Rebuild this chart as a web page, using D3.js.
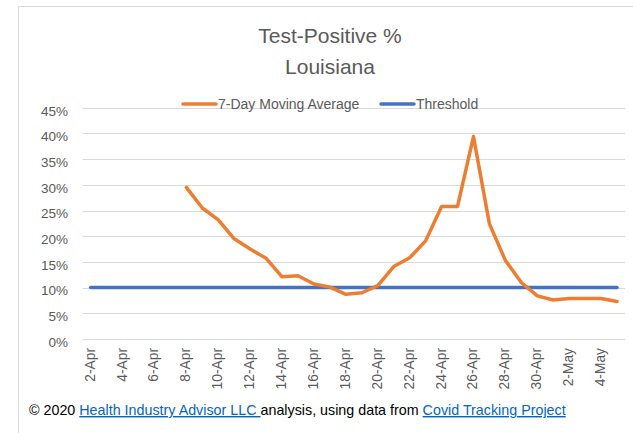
<!DOCTYPE html>
<html>
<head>
<meta charset="utf-8">
<script src="https://cdn.jsdelivr.net/npm/d3@7"></script>
<style>
  html, body { margin: 0; padding: 0; background: #fff; }
  svg { display: block; }
  text { font-family: "Liberation Sans", Arial, sans-serif; }
</style>
</head>
<body>
<svg id="chart" width="633" height="433"></svg>
<script>
// Daily dates, 2-Apr through 5-May 2020
const dates = [
  "2-Apr","3-Apr","4-Apr","5-Apr","6-Apr","7-Apr","8-Apr","9-Apr","10-Apr","11-Apr",
  "12-Apr","13-Apr","14-Apr","15-Apr","16-Apr","17-Apr","18-Apr","19-Apr","20-Apr","21-Apr",
  "22-Apr","23-Apr","24-Apr","25-Apr","26-Apr","27-Apr","28-Apr","29-Apr","30-Apr","1-May",
  "2-May","3-May","4-May","5-May"
];

// 7-day moving average of test-positive rate (%), starts once 7 days are available
const movingAverage = [
  null, null, null, null, null, null,
  29.5, 25.5, 23.2, 19.5, 17.5, 15.7, 12.1, 12.3, 10.7, 10.1,
  8.7, 9.0, 10.4, 14.1, 15.8, 19.1, 25.8, 25.8, 39.4, 22.4,
  15.3, 11.0, 8.4, 7.6, 7.9, 7.9, 7.9, 7.3
];

// Constant 10% threshold
const threshold = dates.map(() => 10);

// Tick labels
const xTickLabels = dates.filter((d, i) => i % 2 === 0);
const yTicks = [0, 5, 10, 15, 20, 25, 30, 35, 40, 45];

const svg = d3.select("#chart");
const textColor = "#595959";
const font = "'Liberation Sans', Arial, sans-serif";

// chart frame
svg.append("path")
  .attr("d", "M18.5,433 V6.5 H633")
  .attr("fill", "none")
  .attr("stroke", "#D9D9D9")
  .attr("stroke-width", 1);

const x = d3.scaleBand().domain(dates).range([82.7, 625]);
const y = d3.scaleLinear().domain([0, 45]).range([339, 107.8]);
const cx = d => x(d) + x.bandwidth() / 2;

// gridlines
svg.append("g")
  .selectAll("line")
  .data(yTicks)
  .join("line")
  .attr("x1", 82.7)
  .attr("x2", 625)
  .attr("y1", d => Math.round(y(d)) + 0.5)
  .attr("y2", d => Math.round(y(d)) + 0.5)
  .attr("stroke", "#D9D9D9")
  .attr("stroke-width", 1);

// y axis labels
const yAxis = d3.axisLeft(y)
  .tickValues(yTicks)
  .tickFormat(d => d + "%")
  .tickSize(0)
  .tickPadding(0);
const yg = svg.append("g").attr("transform", "translate(68,3)").call(yAxis);
yg.select(".domain").remove();
yg.selectAll("text")
  .attr("fill", textColor)
  .style("font-size", "13.5px")
  .style("font-family", font);

// x axis labels (rotated)
const xAxis = d3.axisBottom(x)
  .tickValues(xTickLabels)
  .tickSize(0)
  .tickPadding(0);
const xg = svg.append("g").attr("transform", "translate(0,339)").call(xAxis);
xg.select(".domain").remove();
xg.selectAll("text")
  .attr("fill", textColor)
  .style("font-size", "13.8px")
  .style("font-family", font)
  .attr("text-anchor", "end")
  .attr("dy", null)
  .attr("y", 0)
  .attr("transform", "translate(4,9) rotate(-90)");

// series lines
const line = d3.line()
  .defined(d => d.v != null)
  .x(d => cx(d.date))
  .y(d => y(d.v));

svg.append("path")
  .datum(dates.map((date, i) => ({ date, v: threshold[i] })))
  .attr("d", line)
  .attr("fill", "none")
  .attr("stroke", "#4472C4")
  .attr("stroke-width", 3.5)
  .attr("stroke-linecap", "round");

svg.append("path")
  .datum(dates.map((date, i) => ({ date, v: movingAverage[i] })))
  .attr("d", line)
  .attr("fill", "none")
  .attr("stroke", "#ED7D31")
  .attr("stroke-width", 3.5)
  .attr("stroke-linejoin", "round")
  .attr("stroke-linecap", "round");

// title
const title = svg.append("g").attr("fill", textColor).attr("text-anchor", "middle")
  .style("font-size", "21px");
title.append("text").attr("x", 330).attr("y", 43).text("Test-Positive %");
title.append("text").attr("x", 330).attr("y", 74).text("Louisiana");

// legend
const legendItems = [
  { label: "7-Day Moving Average", color: "#ED7D31", x: 183 },
  { label: "Threshold", color: "#4472C4", x: 381 }
];
const lg = svg.append("g");
legendItems.forEach(item => {
  lg.append("line")
    .attr("x1", item.x).attr("x2", item.x + 33)
    .attr("y1", 104).attr("y2", 104)
    .attr("stroke", item.color)
    .attr("stroke-width", 3.5)
    .attr("stroke-linecap", "round");
  lg.append("text")
    .attr("x", item.x + 35).attr("y", 109)
    .attr("fill", textColor)
    .style("font-size", "14px")
    .text(item.label);
});

// source note
const note = svg.append("text")
  .attr("x", 29).attr("y", 415)
  .style("font-size", "14.3px")
  .attr("fill", "#000");
note.append("tspan").text("\u00A9 2020 ");
note.append("tspan").attr("fill", "#0563C1").attr("text-decoration", "underline")
  .text("Health Industry Advisor LLC ");
note.append("tspan").text("analysis, using data from ");
note.append("tspan").attr("fill", "#0563C1").attr("text-decoration", "underline")
  .text("Covid Tracking Project");
</script>
</body>
</html>
